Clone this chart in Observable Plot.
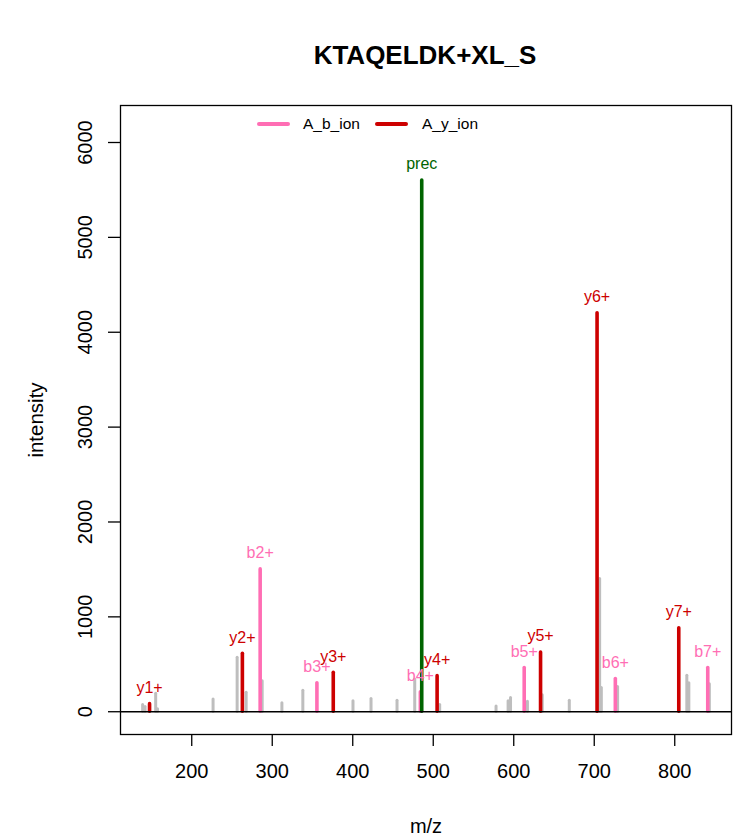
<!DOCTYPE html>
<html>
<head>
<meta charset="utf-8">
<script src="https://cdn.jsdelivr.net/npm/d3@7"></script>
<script src="https://cdn.jsdelivr.net/npm/@observablehq/plot@0.6"></script>
<style>
  body { margin: 0; background: #fff; font-family: "Liberation Sans", Arial, sans-serif; }
  #fig { position: relative; width: 738px; height: 838px; }
  #title { position: absolute; left: 125px; width: 600px; top: 40px; line-height: 30px; text-align: center; font-weight: bold; font-size: 26px; color: #000; }
  #legend { position: absolute; left: 0; top: 0; width: 738px; height: 0; font-size: 15.5px; }
  .sw { position: absolute; height: 4px; border-radius: 2px; }
  .lt { position: absolute; line-height: 18px; color: #000; }
  #chart { position: absolute; left: 0; top: 0; }
</style>
</head>
<body>
<div id="fig">
  <div id="chart"></div>
  <div id="title"></div>
  <div id="legend"></div>
</div>
<script>
// ---- data ----
const titleText = "KTAQELDK+XL_S";
const xLabel = "m/z";
const yLabel = "intensity";
const xTicks = [200, 300, 400, 500, 600, 700, 800];
const yTicks = [0, 1000, 2000, 3000, 4000, 5000, 6000];

// unassigned (gray) peaks
const grayMz  = [139, 142, 155.2, 157.5, 226.5, 256.4, 267.6, 287.5, 312, 338, 400.3, 422.7, 455, 477, 508, 578, 593, 596, 617, 635.4, 669, 706.7, 708.8, 729, 815, 817.5, 843];
const grayInt = [70, 50, 190, 25, 130, 570, 200, 320, 90, 220, 110, 135, 115, 340, 70, 55, 110, 145, 105, 175, 115, 1400, 250, 260, 380, 300, 290];

// annotated peaks
const ionLabel = ["y1+", "y2+", "b2+", "b3+", "y3+", "b4+", "y4+", "b5+", "y5+", "y6+", "b6+", "y7+", "b7+", "prec"];
const ionType  = ["y", "y", "b", "b", "y", "b", "y", "b", "y", "y", "b", "y", "b", "prec"];
const ionMz    = [147.6, 262.9, 285, 355.5, 375.8, 484, 504.8, 613, 633.3, 703.5, 726.2, 805, 841, 485.7];
const ionInt   = [80, 610, 1500, 300, 410, 205, 375, 460, 625, 4200, 345, 880, 460, 5600];

const legendLabels = ["A_b_ion", "A_y_ion"];
const colors = {b: "#FF6EB4", y: "#CD0000", prec: "#006400", gray: "#BEBEBE"};

// ---- tables ----
const gray = grayMz.map((mz, i) => ({mz, int: grayInt[i]}));
const ions = ionMz.map((mz, i) => ({mz, int: ionInt[i], label: ionLabel[i], type: ionType[i]}));
const font = "Liberation Sans, Arial, sans-serif";

const plot = Plot.plot({
  width: 738,
  height: 838,
  marginLeft: 120,
  marginRight: 7,
  marginTop: 105,
  marginBottom: 104,
  style: {fontFamily: font, fontSize: "20px", color: "#000", background: "#fff"},
  x: {domain: [111.5, 870.5]},
  y: {domain: [-240, 6390]},
  marks: [
    Plot.ruleX(gray, {x: "mz", y1: 0, y2: "int", stroke: colors.gray, strokeWidth: 3, strokeLinecap: "round"}),
    Plot.ruleX(ions, {x: "mz", y1: 0, y2: "int", stroke: d => colors[d.type], strokeWidth: 3.6, strokeLinecap: "round"}),
    Plot.text(ions, {x: "mz", y: "int", text: "label", fill: d => colors[d.type], fontSize: 16, lineAnchor: "bottom", dy: -11}),
    Plot.ruleY([0], {stroke: "black", strokeWidth: 1.3}),
    Plot.frame({stroke: "black", strokeWidth: 1.3}),
    Plot.axisX(xTicks, {tickSize: 12, tickPadding: 17, fontSize: 20, label: null, stroke: "black", strokeWidth: 1.3}),
    Plot.axisY(yTicks, {tickSize: 12, tickFormat: () => "", label: null, stroke: "black", strokeWidth: 1.3}),
    Plot.text(yTicks, {y: d => d, text: d => String(d), frameAnchor: "left", rotate: -90, textAnchor: "middle", lineAnchor: "bottom", dx: -29, fontSize: 20}),
    Plot.text([xLabel], {text: d => d, frameAnchor: "bottom", lineAnchor: "bottom", dy: 98, fontSize: 20}),
    Plot.text([yLabel], {text: d => d, frameAnchor: "left", rotate: -90, textAnchor: "middle", lineAnchor: "bottom", dx: -78, fontSize: 20.5})
  ]
});
document.getElementById("chart").appendChild(plot);
document.getElementById("title").textContent = titleText;

const leg = document.getElementById("legend");
const legendSpec = [
  {label: legendLabels[0], color: colors.b, sx: 257, tx: 303},
  {label: legendLabels[1], color: colors.y, sx: 375, tx: 422}
];
legendSpec.forEach(s => {
  const sw = document.createElement("div");
  sw.className = "sw";
  sw.style.left = s.sx + "px"; sw.style.width = "33px"; sw.style.top = "122px"; sw.style.background = s.color;
  leg.appendChild(sw);
  const t = document.createElement("div");
  t.className = "lt";
  t.style.left = s.tx + "px"; t.style.top = "115px";
  t.textContent = s.label;
  leg.appendChild(t);
});
</script>
</body>
</html>
